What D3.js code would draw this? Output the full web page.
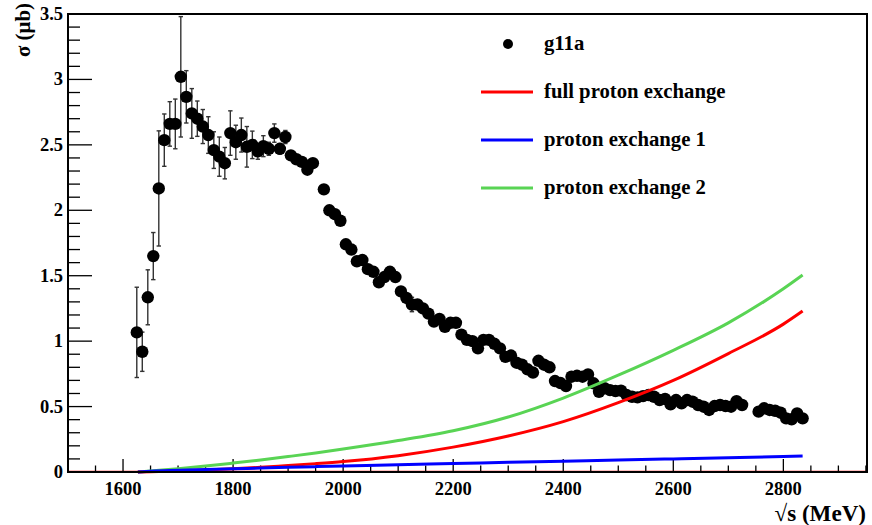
<!DOCTYPE html>
<html><head><meta charset="utf-8">
<script src="https://cdn.jsdelivr.net/npm/d3@7"></script>
<style>body{margin:0;background:#fff}</style>
</head><body><svg id="c" width="872" height="525"></svg>
<script>
// ---- data ----
const energies = [
 1625,1635,1645,1655,1665,1675,1685,1695,1705,1715,1725,1735,1745,1755,1765,1775,1785,1795,1805,1815,1825,1835,1845,1855,1865,1875,1885,1895,1905,1915,1925,1935,1945,
 1965,1975,1985,1995,2005,2015,2025,2035,2045,2055,2065,2075,2085,2095,2105,2115,2125,2135,2145,2155,2165,2175,2185,2195,2205,2215,2225,2235,2245,2255,2265,2275,2285,2295,2305,2315,2325,2335,2345,2355,2365,2375,2385,2395,2405,2415,2425,2435,2445,2455,2465,2475,2485,2495,2505,2515,2525,2535,2545,2555,2565,2575,2585,2595,2605,2615,2625,2635,2645,2655,2665,2675,2685,2695,2705,2715,2725,
 2755,2765,2775,2785,2795,2805,2815,2825,2835];
const sigma = [
 1.067,0.919,1.335,1.65,2.167,2.536,2.66,2.66,3.02,2.867,2.74,2.70,2.64,2.575,2.46,2.41,2.36,2.59,2.52,2.575,2.485,2.50,2.45,2.49,2.47,2.59,2.47,2.56,2.42,2.39,2.37,2.31,2.36,
 2.16,2.00,1.97,1.92,1.74,1.70,1.61,1.62,1.55,1.53,1.45,1.49,1.53,1.49,1.38,1.33,1.28,1.28,1.25,1.21,1.15,1.17,1.11,1.14,1.14,1.05,1.01,1.00,0.945,1.01,1.01,0.98,0.945,0.88,0.89,0.835,0.82,0.785,0.76,0.85,0.82,0.80,0.695,0.68,0.657,0.728,0.735,0.728,0.746,0.678,0.613,0.64,0.626,0.619,0.621,0.588,0.575,0.57,0.58,0.588,0.575,0.55,0.558,0.517,0.55,0.525,0.55,0.537,0.512,0.499,0.474,0.504,0.512,0.504,0.499,0.542,0.512,
 0.461,0.487,0.474,0.468,0.453,0.41,0.403,0.448,0.41];
const sigmaErr = [
 0.345,0.15,0.21,0.18,0.44,0.2,0.17,0.19,0.46,0.2,0.19,0.135,0.13,0.14,0.14,0.15,0.12,0.17,0.13,0.13,0.155,0.105,0.06,0.08,0.05,0.07,0.04,0.05,0.03,0.03,0.03,0.03,0.03,
 0.03,0.03,0.03,0.03,0.03,0.03,0.03,0.03,0.03,0.03,0.03,0.03,0.03,0.03,0.03,0.03,0.055,0.03,0.03,0.03,0.03,0.03,0.03,0.03,0.03,0.03,0.03,0.03,0.03,0.03,0.03,0.03,0.03,0.03,0.03,0.03,0.03,0.03,0.03,0.03,0.03,0.03,0.03,0.03,0.03,0.03,0.03,0.03,0.03,0.03,0.03,0.03,0.03,0.03,0.03,0.03,0.03,0.03,0.03,0.03,0.03,0.03,0.03,0.03,0.03,0.03,0.03,0.03,0.03,0.03,0.03,0.03,0.03,0.03,0.03,0.03,0.03,
 0.03,0.03,0.03,0.03,0.03,0.03,0.03,0.03,0.03];

const curveE = [1627,1650,1700,1750,1800,1850,1900,1950,2000,2100,2200,2300,2400,2500,2600,2700,2800,2835];
const fullExchange = [0,0.002,0.008,0.015,0.025,0.036,0.05,0.064,0.08,0.125,0.19,0.275,0.385,0.53,0.70,0.905,1.13,1.23];
const exchange1 = [0,0.006,0.013,0.019,0.025,0.03,0.036,0.041,0.046,0.056,0.065,0.074,0.083,0.092,0.10,0.109,0.118,0.122];
const exchange2 = [0,0.008,0.025,0.045,0.068,0.092,0.118,0.145,0.175,0.24,0.315,0.42,0.565,0.74,0.93,1.14,1.40,1.505];

const xTicks = [1600,1800,2000,2200,2400,2600,2800];
const yTicks = [0,0.5,1,1.5,2,2.5,3,3.5];
const legendLabels = ["g11a","full proton exchange","proton exchange 1","proton exchange 2"];
const colors = {red:"#ff0000", blue:"#0000ff", green:"#59d454"};

// ---- pick an installed serif font if any ----
function pickFont(){
  const c = document.createElement("canvas").getContext("2d");
  const probe = "mmmmmwwwiill 1234567890 proton";
  const base = ["monospace","sans-serif"];
  const cands = ["Liberation Serif","DejaVu Serif","Noto Serif","Times New Roman","Tinos","FreeSerif","Nimbus Roman","Nimbus Roman No9 L","Times"];
  for (const f of cands){
    let found=false;
    for (const b of base){
      c.font = "bold 40px " + b; const w0 = c.measureText(probe).width;
      c.font = "bold 40px '" + f + "'," + b; const w1 = c.measureText(probe).width;
      if (Math.abs(w1-w0)>0.5) found=true;
    }
    if (found) return "'" + f + "', serif";
  }
  return "'Liberation Sans', Arial, sans-serif";
}
const FONT = pickFont();

// ---- layout ----
const L=68, R=867, T=14, B=472;
const svg = d3.select("#c");
const x = d3.scaleLinear().domain([1500,2952]).range([L,R]);
const y = d3.scaleLinear().domain([0,3.5]).range([B,T]);
function txt(sel){ return sel.attr("font-family",FONT).attr("font-weight","bold").attr("fill","#000"); }
// font size that gives a text a wanted width (reference widths, clamped)
function fit(str, target, base, maxScale){
  const t = txt(svg.append("text")).attr("font-size",base+"px").text(str);
  const w = t.node().getComputedTextLength(); t.remove();
  const s = Math.max(0.85, Math.min(maxScale, target/w));
  return base*s;
}
const tickFS = fit("1600", 37, 18, 1.1);
const legFS = fit("full proton exchange", 194, 18.5, 1.12);
const xTitleFS = fit("\u221As (MeV)", 103, 22, 1.05);
const yTitleFS = fit("\u03C3 (\u03BCb)", 54, 22, 1.1);

// red baseline of the full-exchange histogram
svg.append("line").attr("x1",L).attr("x2",R).attr("y1",y(0)-0.5).attr("y2",y(0)-0.5)
  .attr("stroke",colors.red).attr("stroke-width",1.5);

// axes ticks
const xMinor = d3.range(1550,2951,50);
const gx = svg.append("g");
xMinor.forEach(v=>{
  const major = v%200===0;
  gx.append("line").attr("x1",x(v)).attr("x2",x(v)).attr("y1",B).attr("y2",B-(major?13:6.5))
    .attr("stroke","#000").attr("stroke-width",1.3);
});
xTicks.forEach(v=>{
  txt(gx.append("text")).attr("x",x(v)).attr("y",495).attr("text-anchor","middle")
    .attr("font-size",tickFS+"px").text(v);
});
const yMinor = d3.range(0,3.501,0.1);
yMinor.forEach(v=>{
  const major = Math.abs(v*2-Math.round(v*2))<1e-6;
  svg.append("line").attr("x1",L).attr("x2",L+(major?24:12)).attr("y1",y(v)).attr("y2",y(v))
    .attr("stroke","#000").attr("stroke-width",1.3);
});
yTicks.forEach(v=>{
  txt(svg.append("text")).attr("x",63).attr("y",y(v)+6).attr("text-anchor","end")
    .attr("font-size",tickFS+"px").text(v);
});

// error bars + points
const pts = energies.map((e,i)=>({e, s:sigma[i], er:sigmaErr[i]}));
const gErr = svg.append("g").attr("stroke","#333").attr("stroke-width",1.4);
pts.forEach(p=>{
  gErr.append("line").attr("x1",x(p.e)).attr("x2",x(p.e)).attr("y1",y(p.s+p.er)).attr("y2",y(p.s-p.er));
  [p.s+p.er,p.s-p.er].forEach(v=>gErr.append("line").attr("x1",x(p.e)-2.2).attr("x2",x(p.e)+2.2).attr("y1",y(v)).attr("y2",y(v)));
});
svg.append("g").selectAll("circle").data(pts).join("circle")
  .attr("cx",d=>x(d.e)).attr("cy",d=>y(d.s)).attr("r",6.2).attr("fill","#000");

// curves
const line = d3.line().x(d=>x(d[0])).y(d=>y(d[1])).curve(d3.curveMonotoneX);
[[exchange2,colors.green],[fullExchange,colors.red],[exchange1,colors.blue]].forEach(([vals,c])=>{
  svg.append("path").attr("d",line(curveE.map((e,i)=>[e,vals[i]])))
    .attr("fill","none").attr("stroke",c).attr("stroke-width",3);
});

// frame
svg.append("rect").attr("x",L).attr("y",T).attr("width",R-L).attr("height",B-T)
  .attr("fill","none").attr("stroke","#000").attr("stroke-width",2);

// legend
const lg = svg.append("g");
const legY = [44,92,140,188];
lg.append("circle").attr("cx",508).attr("cy",legY[0]).attr("r",5).attr("fill","#000");
[colors.red,colors.blue,colors.green].forEach((c,i)=>{
  lg.append("line").attr("x1",481).attr("x2",533).attr("y1",legY[i+1]).attr("y2",legY[i+1])
    .attr("stroke",c).attr("stroke-width",3);
});
legendLabels.forEach((t,i)=>{
  txt(lg.append("text")).attr("x",544).attr("y",legY[i]+6).attr("font-size",legFS+"px").text(t);
});

// axis titles
txt(svg.append("text")).attr("x",866).attr("y",521).attr("text-anchor","end")
  .attr("font-size",xTitleFS+"px").text("\u221As (MeV)");
txt(svg.append("text")).attr("transform","translate(30,3) rotate(-90)").attr("text-anchor","end")
  .attr("font-size",yTitleFS+"px").text("\u03C3 (\u03BCb)");
</script></body></html>
